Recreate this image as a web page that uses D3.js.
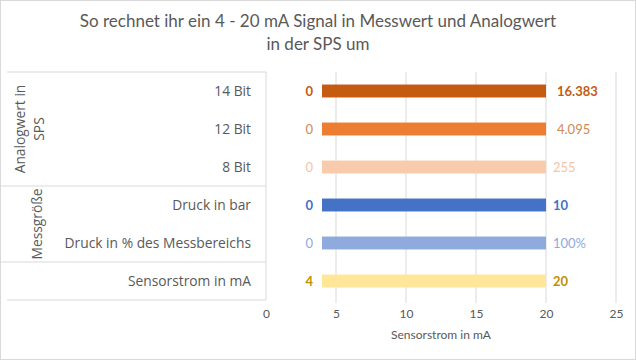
<!DOCTYPE html>
<html><head><meta charset="utf-8">
<script src="https://cdn.jsdelivr.net/npm/d3@7"></script>
<style>
html,body{margin:0;padding:0;background:#fff;}
svg{display:block;font-family:Lato,"Open Sans",sans-serif;}
</style></head>
<body>
<script>
const titleLines = ["So rechnet ihr ein 4 - 20 mA Signal in  Messwert und Analogwert", "in der SPS um"];
const categories = ["14 Bit","12 Bit","8 Bit","Druck in bar","Druck in % des Messbereichs","Sensorstrom in mA"];
const groupNames = [["Analogwert in","SPS"],["Messgröße"],[]];
const groupSizes = [3,2,1];
const startValues = [4,4,4,4,4,4];
const endValues = [20,20,20,20,20,20];
const startLabels = ["0","0","0","0","0","4"];
const endLabels = ["16.383","4.095","255","10","100%","20"];
const barColors = ["#C55A11","#ED7D31","#F8CBAD","#4472C4","#8FAADC","#FFE699"];
const labelColors = ["#C55A11","#CD8A55","#F2C6A8","#4472C4","#8FAADC","#BF9000"];
const labelBold = [true,false,false,true,false,true];
const xTicks = [0,5,10,15,20,25];
const xTitle = "Sensorstrom in mA";

const W=636,H=360;
const catFont="'Open Sans',Lato,sans-serif";
const svg=d3.select("body").append("svg").attr("width",W).attr("height",H);
svg.append("rect").attr("x",0.5).attr("y",0.5).attr("width",W-1).attr("height",H-1)
  .attr("fill","#fff").attr("stroke","#D9D9D9");

const plot={left:266,right:616,top:72,bottom:300};
const x=d3.scaleLinear().domain([0,25]).range([plot.left,plot.right]);
const y=d3.scaleBand().domain(categories).range([plot.top,plot.bottom]).paddingInner(0.66).paddingOuter(0.33);
const yRow=d3.scaleBand().domain(categories).range([plot.top,plot.bottom]);

// title
svg.append("g").selectAll("text").data(titleLines).join("text")
  .attr("x",W/2).attr("y",(d,i)=>27+i*23).attr("text-anchor","middle")
  .attr("font-size",17).attr("fill","#595959").text(d=>d);

// gridlines
svg.append("g").selectAll("line").data(xTicks.filter(t=>t>0)).join("line")
  .attr("x1",d=>x(d)).attr("x2",d=>x(d)).attr("y1",plot.top).attr("y2",plot.bottom+3)
  .attr("stroke","#D9D9D9");

// x axis tick labels
const xAxis=d3.axisBottom(x).tickValues(xTicks).tickSize(0).tickPadding(0);
const ax=svg.append("g").attr("transform",`translate(0,${plot.bottom+9})`).call(xAxis);
ax.select(".domain").remove();
ax.selectAll("text").attr("fill","#595959").attr("font-size",12).attr("font-family","Lato,'Open Sans',sans-serif");
svg.append("text").attr("x",(plot.left+plot.right)/2).attr("y",339).attr("text-anchor","middle")
  .attr("font-size",12).attr("fill","#595959").text(xTitle);

// category area lines
const cat=svg.append("g").attr("stroke","#D9D9D9").attr("fill","none");
cat.append("line").attr("x1",plot.left).attr("x2",plot.left).attr("y1",plot.top).attr("y2",plot.bottom);
let acc=0;
const bounds=[plot.top];
groupSizes.forEach(s=>{acc+=s; bounds.push(acc<categories.length? yRow(categories[acc]) : plot.bottom);});
bounds.forEach((b,i)=>{
  cat.append("line").attr("x1",i===0||i===bounds.length-1?7:0).attr("x2",plot.left).attr("y1",b).attr("y2",b);
});

// category labels
svg.append("g").selectAll("text").data(categories).join("text")
  .attr("x",251).attr("y",d=>yRow(d)+yRow.bandwidth()/2).attr("dy","0.35em")
  .attr("text-anchor","end").attr("font-size",13.8).attr("font-family",catFont).attr("fill","#595959").text(d=>d);

// group labels
const groupX=[[20,39],[37],[]];
groupNames.forEach((lines,gi)=>{
  const cy=(bounds[gi]+bounds[gi+1])/2;
  lines.forEach((ln,li)=>{
    svg.append("text").attr("transform",`translate(${groupX[gi][li]},${cy}) rotate(-90)`)
      .attr("text-anchor","middle").attr("dy","0.35em").attr("font-size",13.8).attr("font-family",catFont)
      .attr("fill","#595959").text(ln);
  });
});

// bars
svg.append("g").selectAll("rect").data(categories).join("rect")
  .attr("x",(d,i)=>x(startValues[i])).attr("width",(d,i)=>x(endValues[i])-x(startValues[i]))
  .attr("y",d=>y(d)).attr("height",y.bandwidth()).attr("fill",(d,i)=>barColors[i]);

// value labels
svg.append("g").selectAll("text").data(categories).join("text")
  .attr("x",(d,i)=>x(startValues[i])-9).attr("y",d=>yRow(d)+yRow.bandwidth()/2).attr("dy","0.35em")
  .attr("text-anchor","end").attr("font-size",13).attr("font-weight",(d,i)=>labelBold[i]?"bold":"normal")
  .attr("fill",(d,i)=>labelColors[i]).text((d,i)=>startLabels[i]);
svg.append("g").selectAll("text").data(categories).join("text")
  .attr("x",(d,i)=>x(endValues[i])+(i<2?11:7)).attr("y",d=>yRow(d)+yRow.bandwidth()/2).attr("dy","0.35em")
  .attr("text-anchor","start").attr("font-size",13).attr("font-weight",(d,i)=>labelBold[i]?"bold":"normal")
  .attr("fill",(d,i)=>labelColors[i]).text((d,i)=>endLabels[i]);
</script>
</body></html>
